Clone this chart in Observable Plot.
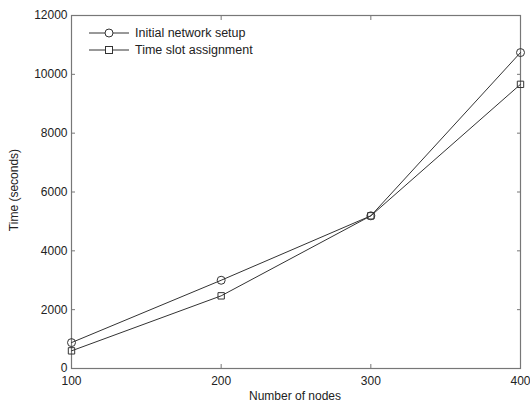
<!DOCTYPE html>
<html><head><meta charset="utf-8">
<script src="https://cdn.jsdelivr.net/npm/d3@7"></script>
<script src="https://cdn.jsdelivr.net/npm/@observablehq/plot@0.6"></script>
<style>
body{margin:0;background:#fff;font-family:"Liberation Sans",Arial,sans-serif;}
#wrap{position:relative;width:530px;height:403px;}
#legend{position:absolute;left:89px;top:24px;font-size:12.5px;color:#222;}
#legend div{display:flex;align-items:center;height:17px;}
#legend svg{margin-right:6px;}
</style>
</head><body>
<div id="wrap"><div id="chart"></div><div id="legend"></div></div>
<script>
const nodes = [100, 200, 300, 400];
const initialSetup = [880, 3000, 5190, 10740];
const slotAssignment = [600, 2470, 5190, 9660];
const seriesNames = ["Initial network setup", "Time slot assignment"];
const xTicks = [100, 200, 300, 400];
const yTicks = [0, 2000, 4000, 6000, 8000, 10000, 12000];

const rows = [];
nodes.forEach((n, i) => {
  rows.push({nodes: n, time: initialSetup[i], series: seriesNames[0]});
  rows.push({nodes: n, time: slotAssignment[i], series: seriesNames[1]});
});
const lineCol = "#333";
const axisCol = "#777";

const chart = Plot.plot({
  width: 530, height: 403,
  marginLeft: 71, marginRight: 10, marginTop: 15, marginBottom: 35,
  style: {fontFamily: '"Liberation Sans", Arial, sans-serif', fontSize: "12px", color: "#222", background: "#fff"},
  x: {domain: [100, 400]},
  y: {domain: [0, 12000]},
  marks: [
    Plot.frame({stroke: axisCol, strokeWidth: 1.2}),
    Plot.axisX({ticks: xTicks, tickSize: -4, tickPadding: 12, stroke: axisCol, fill: "#222", tickFormat: d => String(d), label: null}),
    Plot.axisX({anchor: "top", ticks: xTicks, tickSize: -4, stroke: axisCol, tickFormat: () => "", label: null}),
    Plot.axisY({ticks: yTicks, tickSize: -4, tickPadding: 8, stroke: axisCol, fill: "#222", tickFormat: d => String(d), label: null}),
    Plot.axisY({anchor: "right", ticks: yTicks, tickSize: -4, stroke: axisCol, tickFormat: () => "", label: null}),
    Plot.line(rows, {x: "nodes", y: "time", z: "series", stroke: lineCol, strokeWidth: 1}),
    Plot.dot(rows.filter(d => d.series === seriesNames[0]), {x: "nodes", y: "time", symbol: "circle", r: 4, stroke: lineCol, fill: "none", strokeWidth: 1}),
    Plot.dot(rows.filter(d => d.series === seriesNames[1]), {x: "nodes", y: "time", symbol: "square", r: 3.6, stroke: lineCol, fill: "none", strokeWidth: 1})
  ]
});
document.getElementById("chart").appendChild(chart);

const svg = d3.select(chart);
svg.append("text").attr("x", 295).attr("y", 400).attr("text-anchor", "middle")
  .attr("font-size", 12).attr("fill", "#222").text("Number of nodes");
svg.append("text").attr("transform", "translate(18,190) rotate(-90)").attr("text-anchor", "middle")
  .attr("font-size", 12).attr("fill", "#222").text("Time (seconds)");

const leg = document.getElementById("legend");
seriesNames.forEach((name, i) => {
  const row = document.createElement("div");
  const sym = i === 0
    ? `<circle cx="20" cy="8" r="4" fill="#fff" stroke="${lineCol}"/>`
    : `<rect x="16.5" y="4.5" width="7" height="7" fill="#fff" stroke="${lineCol}"/>`;
  row.innerHTML = `<svg width="40" height="16"><line x1="0" x2="40" y1="8" y2="8" stroke="${lineCol}"/>${sym}</svg><span>${name}</span>`;
  leg.appendChild(row);
});
</script>
</body></html>
